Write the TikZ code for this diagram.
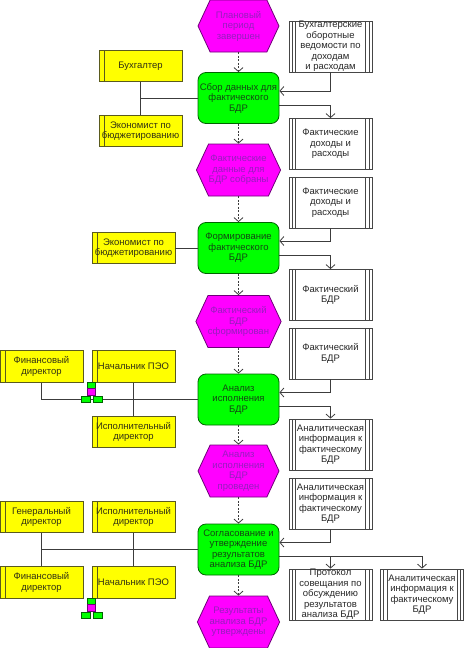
\documentclass[tikz,border=0pt]{standalone}
\usepackage{fontspec}
\setmainfont{Liberation Sans}
\usetikzlibrary{arrows.meta,shapes.symbols}

\definecolor{evfill}{RGB}{255,0,255}
\definecolor{evline}{RGB}{110,0,120}
\definecolor{evtext}{RGB}{150,30,190}
\definecolor{fnfill}{RGB}{0,255,0}
\definecolor{fnline}{RGB}{0,100,0}
\definecolor{fntext}{RGB}{20,70,20}
\definecolor{rolefill}{RGB}{255,255,0}
\definecolor{roleline}{RGB}{90,90,30}
\definecolor{roletext}{RGB}{50,50,20}
\definecolor{docline}{RGB}{70,70,70}
\definecolor{doctext}{RGB}{40,40,40}
\definecolor{lncol}{RGB}{60,60,60}

\begin{document}
\begin{tikzpicture}[
  x=1pt,y=-1pt,line width=0.8pt,
  font=\fontsize{9.5}{10.5}\selectfont,
  event/.style={signal,signal to=east and west,signal pointer angle=130,draw=evline,fill=evfill,text=evtext,minimum width=81pt,minimum height=52pt,inner sep=0pt,align=center},
  func/.style={draw=fnline,fill=fnfill,text=fntext,rounded corners=8pt,minimum width=81pt,minimum height=51pt,inner sep=0pt,align=center},
  doc/.style={draw=docline,fill=white,text=doctext,minimum width=83pt,minimum height=51pt,inner sep=0pt,align=center,
    path picture={\draw[docline]
      ([xshift=3pt]path picture bounding box.north west) -- ([xshift=3pt]path picture bounding box.south west)
      ([xshift=6.5pt]path picture bounding box.north west) -- ([xshift=6.5pt]path picture bounding box.south west)
      ([xshift=-3pt]path picture bounding box.north east) -- ([xshift=-3pt]path picture bounding box.south east)
      ([xshift=-6.5pt]path picture bounding box.north east) -- ([xshift=-6.5pt]path picture bounding box.south east);}},
  role/.style={draw=roleline,fill=rolefill,text=roletext,minimum width=83pt,minimum height=31.5pt,inner sep=0pt,align=center,
    path picture={\draw[roleline]
      ([xshift=5pt]path picture bounding box.north west) -- ([xshift=5pt]path picture bounding box.south west);}},
  flow/.style={draw=lncol,-{Straight Barb[length=4pt,width=9pt]}},
  ctrl/.style={flow,dash pattern=on 2pt off 1.5pt},
  link/.style={draw=lncol},
  orgicon/.pic={
    \draw[fnline,line width=0.5pt,fill=fnfill] (-4,0) rectangle (4,6);
    \draw[evline,line width=0.5pt,fill=evfill] (-4,6) rectangle (4,13);
    \draw[fnline,line width=0.5pt,fill=fnfill] (-10,14) rectangle (-1,20);
    \draw[fnline,line width=0.5pt,fill=fnfill] (2,14) rectangle (11,20);
  }
]
  \useasboundingbox (0,0) rectangle (474,648);

  % events and functions
  \node[event] (e1) at (238.5,26) {Плановый\\период\\завершен};
  \node[func] (f1) at (238.5,98) {Сбор данных для\\фактического\\БДР};
  \node[event] (e2) at (238.5,170) {Фактические\\данные для\\БДР собраны};
  \node[func] (f2) at (238.5,248) {Формирование\\фактического\\БДР};
  \node[event] (e3) at (238.5,321.5) {Фактический\\БДР\\сформирован};
  \node[func] (f3) at (238.5,399.5) {Анализ\\исполнения\\БДР};
  \node[event] (e4) at (238.5,471) {Анализ\\исполнения\\БДР\\проведен};
  \node[func] (f4) at (238.5,549.5) {Согласование и\\утверждение\\результатов\\анализа БДР};
  \node[event] (e5) at (238.5,622) {Результаты\\анализа БДР\\утверждены};

  % documents
  \node[doc] (d1) at (330.5,46.5) {Бухгалтерские\\оборотные\\ведомости по\\доходам\\и расходам};
  \node[doc] (d2) at (330.5,144) {Фактические\\доходы и\\расходы};
  \node[doc] (d3) at (330.5,202.5) {Фактические\\доходы и\\расходы};
  \node[doc] (d4) at (330.5,295) {Фактический\\БДР};
  \node[doc] (d5) at (330.5,353.5) {Фактический\\БДР};
  \node[doc] (d6) at (330.5,444.5) {Аналитическая\\информация к\\фактическому\\БДР};
  \node[doc] (d7) at (330.5,503.5) {Аналитическая\\информация к\\фактическому\\БДР};
  \node[doc] (d8) at (330.5,594.5) {Протокол\\совещания по\\обсуждению\\результатов\\анализа БДР};
  \node[doc] (d9) at (422,594.5) {Аналитическая\\информация к\\фактическому\\БДР};

  % roles
  \node[role] (r1) at (140.5,66) {Бухгалтер};
  \node[role] (r2) at (140.5,131) {Экономист по\\бюджетированию};
  \node[role] (r3) at (133.5,248) {Экономист по\\бюджетированию};
  \node[role] (r4) at (41.5,366.5) {Финансовый\\директор};
  \node[role] (r5) at (133.5,366.5) {Начальник ПЭО};
  \node[role] (r6) at (133.5,432) {Исполнительный\\директор};
  \node[role] (r7) at (41.5,517) {Генеральный\\директор};
  \node[role] (r8) at (133.5,517) {Исполнительный\\директор};
  \node[role] (r9) at (41.5,582.5) {Финансовый\\директор};
  \node[role] (r10) at (133.5,582.5) {Начальник ПЭО};

  % control flow
  \draw[ctrl] (e1.south) -- (f1.north);
  \draw[ctrl] (f1.south) -- (e2.north);
  \draw[ctrl] (e2.south) -- (f2.north);
  \draw[ctrl] (f2.south) -- (e3.north);
  \draw[ctrl] (e3.south) -- (f3.north);
  \draw[ctrl] (f3.south) -- (e4.north);
  \draw[ctrl] (e4.south) -- (f4.north);
  \draw[ctrl] (f4.south) -- (e5.north);

  % inputs and outputs
  \draw[flow] (d1.south) |- ([yshift=7pt]f1.east);
  \draw[flow] ([yshift=-7pt]f1.east) -| (d2.north);
  \draw[flow] (d3.south) |- ([yshift=7pt]f2.east);
  \draw[flow] ([yshift=-7pt]f2.east) -| (d4.north);
  \draw[flow] (d5.south) |- ([yshift=7pt]f3.east);
  \draw[flow] ([yshift=-7pt]f3.east) -| (d6.north);
  \draw[flow] (d7.south) |- ([yshift=7pt]f4.east);
  \draw[flow] ([yshift=-7pt]f4.east) -| (d8.north);
  \draw[flow] ([yshift=-7pt]f4.east) -| (d9.north);

  % roles to functions
  \draw[link] (r1.south) -- (r2.north);
  \draw[link] (r1.south |- f1.west) -- (f1.west);
  \draw[link] (r3.east) -- (f2.west);
  \draw[link] (r4.south) |- (f3.west);
  \draw[link] (r5.south) -- (r6.north);
  \draw[link] (r7.south) -- (r9.north);
  \draw[link] (r8.south) -- (r10.north);
  \draw[link] (r7.south |- f4.west) -- (f4.west);

  \pic at (r5.south west) {orgicon};
  \pic at (r10.south west) {orgicon};
\end{tikzpicture}
\end{document}
